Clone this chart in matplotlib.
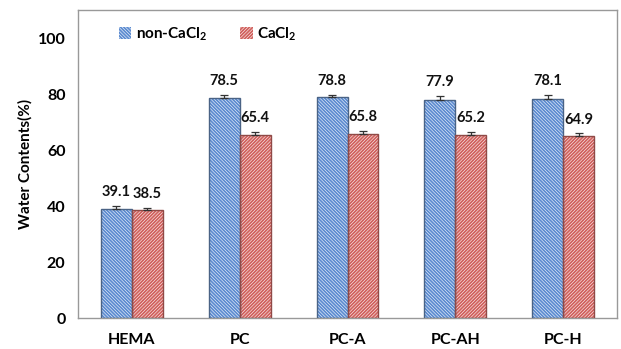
import matplotlib
matplotlib.use("Agg")
import matplotlib.pyplot as plt
import numpy as np
from matplotlib.patches import Patch

plt.rcParams['font.family'] = ['Lato', 'DejaVu Sans']
plt.rcParams['mathtext.fontset'] = 'custom'
plt.rcParams['mathtext.bf'] = 'Lato:bold'
plt.rcParams['mathtext.rm'] = 'Lato:bold'
plt.rcParams['hatch.linewidth'] = 1.3

categories = ['HEMA', 'PC', 'PC-A', 'PC-AH', 'PC-H']
non_cacl2 = [39.1, 78.5, 78.8, 77.9, 78.1]
cacl2 = [38.5, 65.4, 65.8, 65.2, 64.9]
non_cacl2_err = [0.9, 1.3, 1.0, 1.5, 1.6]
cacl2_err = [0.8, 1.2, 1.0, 1.1, 1.0]
yticks = [0, 20, 40, 60, 80, 100]

blue = '#5b8bd0'
red = '#d0605c'
blue_edge = '#4a6385'
red_edge = '#8f4a47'
blue_hatch = '\\' * 10
red_hatch = '/' * 10

fig = plt.figure(figsize=(6.21, 3.49), dpi=100)
ax = fig.add_axes([0.1256, 0.0888, 0.868, 0.8825])

x = np.arange(len(categories))
w = 0.287

def draw_series(pos, vals, errs, color, edge, hatch):
    ax.bar(pos, vals, w, color='white', edgecolor=color, hatch=hatch, linewidth=0, zorder=2)
    ax.bar(pos, vals, w, fill=False, edgecolor=edge, linewidth=1.0, zorder=3)
    ax.errorbar(pos, vals, yerr=[np.zeros(len(vals)), errs], fmt='none',
                ecolor='#333333', elinewidth=0.9, capsize=3, capthick=0.9, zorder=4)
    for xi, v, e in zip(pos, vals, errs):
        ax.annotate(f'{v:.1f}', (xi, v + e), xytext=(0, 5), textcoords='offset points',
                    ha='center', va='bottom', fontsize=10.5, fontweight='bold', color='#111111')

draw_series(x - w / 2, non_cacl2, non_cacl2_err, blue, blue_edge, blue_hatch)
draw_series(x + w / 2, cacl2, cacl2_err, red, red_edge, red_hatch)

ax.set_xlim(-0.5, len(categories) - 0.5)
ax.set_ylim(0, 110)
ax.set_yticks(yticks)
ax.set_yticklabels([str(t) for t in yticks], fontsize=11.5, fontweight='bold')
ax.set_xticks(x)
ax.set_xticklabels(categories, fontsize=11.5, fontweight='bold')
ax.tick_params(axis='both', length=0)
ax.tick_params(axis='y', pad=9)
ax.tick_params(axis='x', pad=11)
ax.set_ylabel('Water Contents(%)', fontsize=11, fontweight='bold', labelpad=4)

for sp in ax.spines.values():
    sp.set_color('#999999')
    sp.set_linewidth(1.0)

handles = [Patch(facecolor='white', edgecolor=blue, hatch=blue_hatch, linewidth=0),
           Patch(facecolor='white', edgecolor=red, hatch=red_hatch, linewidth=0)]
labels = [r'non-CaCl$_{2}$', r'CaCl$_{2}$']
leg = ax.legend(handles, labels, loc='upper left', bbox_to_anchor=(0.05, 0.995), ncol=2,
                frameon=False, fontsize=11, handlelength=0.8, handleheight=0.8,
                handletextpad=0.3, columnspacing=2.2)
for t in leg.get_texts():
    t.set_fontweight('bold')

fig.savefig('out.png', dpi=100)
